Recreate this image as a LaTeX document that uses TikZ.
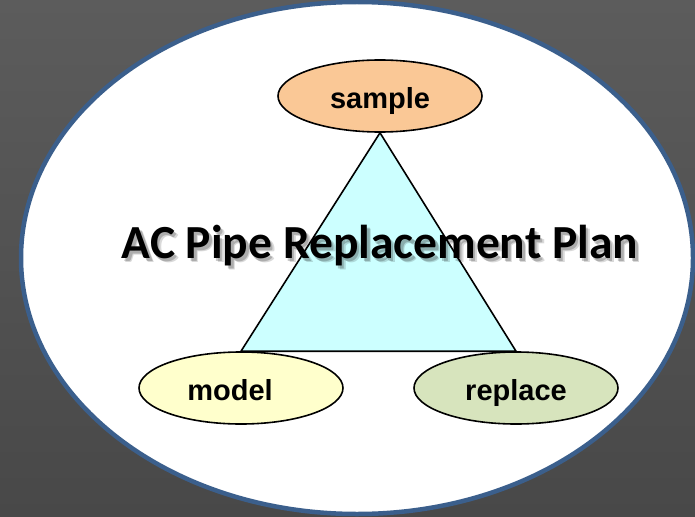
\documentclass[tikz,border=0pt]{standalone}
\usepackage{fontspec}
\usepackage{tikz}
\usetikzlibrary{shapes.geometric, positioning}
\newfontfamily\labelfont{Liberation Sans}
\newfontfamily\titlefont{Carlito}
\definecolor{bgtop}{RGB}{92,92,92}
\definecolor{bgbot}{RGB}{72,72,72}
\definecolor{rim}{RGB}{59,95,140}
\definecolor{colsample}{RGB}{250,200,150}
\definecolor{colmodel}{RGB}{255,255,204}
\definecolor{colreplace}{RGB}{215,228,189}
\definecolor{coltri}{RGB}{204,255,255}
\pgfdeclarelayer{back}
\pgfdeclarelayer{tri}
\pgfsetlayers{back,tri,main}
\tikzset{
  stage/.style={ellipse, draw=black, line width=1.6pt, minimum width=204pt,
    minimum height=72pt, inner sep=0pt, text height=24pt, text depth=0pt,
    font=\labelfont\bfseries\fontsize{29}{31}\selectfont},
  headline/.style={anchor=base, font=\titlefont\bfseries\fontsize{47.5}{50}\selectfont},
}

\begin{document}
\begin{tikzpicture}[x=1pt, y=-1pt, node distance=2cm, on grid]
\useasboundingbox (0,0) rectangle (695,516);
\begin{pgfonlayer}{back}
\shade [top color=bgtop, bottom color=bgbot] (0,0) rectangle (695,516);
\draw [rim, line width=4.5pt, fill=white] (357,258) ellipse [x radius=336pt, y radius=256pt];
\end{pgfonlayer}
\node (sample) [stage, fill=colsample] at (380,96) {sample};
\node (model) [stage, fill=colmodel, below left = 292pt and 139pt of sample] {model\hspace*{22pt}};
\node (replace) [stage, fill=colreplace, right = 275pt of model] {replace};
\begin{pgfonlayer}{tri}
\filldraw [fill=coltri, line width=1.6pt] (sample.south) -- (model.north) -- (replace.north) -- cycle;
\end{pgfonlayer}
% soft shadow under the title
\node (shadow1) [headline, text=black, opacity=0.15] at (384,262.5) {AC Pipe Replacement Plan};
\node (shadow2) [headline, text=black, opacity=0.2] at (382.5,261) {AC Pipe Replacement Plan};
\node (title) [headline] at (380,258) {AC Pipe Replacement Plan};
\end{tikzpicture}
\end{document}
